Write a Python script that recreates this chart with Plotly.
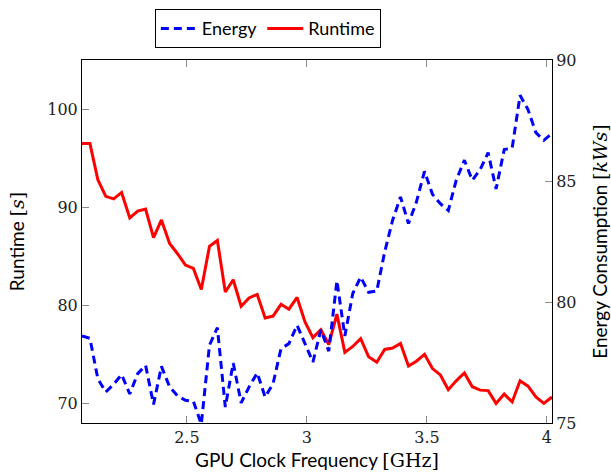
import plotly.graph_objects as go

freq_ghz = [2.063, 2.096, 2.129, 2.162, 2.195, 2.228, 2.262, 2.295, 2.328, 2.361,
            2.394, 2.428, 2.461, 2.494, 2.527, 2.560, 2.594, 2.627, 2.660, 2.693,
            2.726, 2.759, 2.793, 2.826, 2.859, 2.892, 2.925, 2.959, 2.992, 3.025,
            3.058, 3.091, 3.125, 3.158, 3.191, 3.224, 3.257, 3.291, 3.324, 3.357,
            3.390, 3.423, 3.456, 3.490, 3.523, 3.556, 3.589, 3.622, 3.656, 3.689,
            3.722, 3.755, 3.788, 3.822, 3.855, 3.888, 3.921, 3.954, 3.987, 4.021]

runtime_s = [96.5, 96.5, 92.8, 91.1, 90.85, 91.5, 88.9, 89.6, 89.8, 86.9,
             88.7, 86.3, 85.25, 84.1, 83.75, 81.6, 86.0, 86.6, 81.35, 82.6,
             79.9, 80.75, 81.1, 78.7, 78.9, 80.1, 79.6, 80.8, 78.3, 76.7,
             77.5, 76.0, 79.1, 75.2, 75.8, 76.6, 74.75, 74.2, 75.5, 75.65,
             76.1, 73.8, 74.3, 75.0, 73.55, 72.9, 71.4, 72.3, 73.1, 71.7,
             71.35, 71.3, 70.0, 70.95, 70.15, 72.3, 71.75, 70.65, 70.0, 70.65]

energy_kws = [78.6, 78.5, 76.83, 76.28, 76.6, 77.0, 76.2, 77.04, 77.38, 75.77,
              77.34, 76.49, 76.12, 75.94, 75.9, 74.95, 78.21, 78.94, 75.66, 77.48,
              75.83, 76.49, 77.07, 76.07, 76.63, 78.07, 78.28, 79.04, 78.28, 77.52,
              78.85, 77.97, 80.88, 78.6, 80.35, 81.03, 80.4, 80.45, 82.07, 83.38,
              84.34, 83.24, 84.13, 85.4, 84.45, 84.06, 83.78, 85.03, 85.86, 85.03,
              85.48, 86.17, 84.67, 86.3, 86.36, 88.54, 87.95, 87.0, 86.68, 86.97]

x_ticks = [2.5, 3, 3.5, 4]
x_tick_text = ["2.5", "3", "3.5", "4"]
runtime_ticks = [70, 80, 90, 100]
energy_ticks = [75, 80, 85, 90]

SERIF = "DejaVu Serif"
SANS = "Lato"

fig = go.Figure()
fig.add_trace(go.Scatter(x=freq_ghz, y=energy_kws, name="Energy", mode="lines",
                         line=dict(color="#0000ff", width=3, dash="8px,5px"),
                         yaxis="y2"))
fig.add_trace(go.Scatter(x=freq_ghz, y=runtime_s, name="Runtime", mode="lines",
                         line=dict(color="#ff0000", width=3)))

tickstyle = dict(ticks="inside", ticklen=7, tickwidth=1, tickcolor="#8a8a8a",
                 showgrid=False, zeroline=False, showline=True,
                 linecolor="black", linewidth=1,
                 tickfont=dict(family=SERIF, size=16, color="#222"))

fig.update_layout(
    width=611, height=474,
    margin=dict(l=82, r=59, t=60, b=51, autoexpand=False),
    paper_bgcolor="white", plot_bgcolor="white",
    showlegend=True,
    legend=dict(orientation="h", x=0.155, y=1.14, xanchor="left", yanchor="top",
                xref="paper", yref="paper",
                bordercolor="black", borderwidth=1,
                font=dict(family=SANS, size=18, color="black"),
                itemwidth=36, tracegroupgap=0),
    xaxis=dict(range=[freq_ghz[0], freq_ghz[-1]], tickvals=x_ticks, ticktext=x_tick_text,
               mirror="ticks",
               title=dict(text='GPU Clock Frequency <span style="font-family:\'DejaVu Serif\'">[GHz]</span>',
                          font=dict(family=SANS, size=19, color="black"), standoff=7),
               **tickstyle),
    yaxis=dict(range=[68, 105], tickvals=runtime_ticks,
               title=dict(text='Runtime <span style="font-family:\'DejaVu Serif\'">[<i>s</i>]</span>',
                          font=dict(family=SANS, size=19, color="black"), standoff=17),
               **tickstyle),
    yaxis2=dict(range=[75, 90], tickvals=energy_ticks, overlaying="y", side="right",
                title=dict(text='Energy Consumption <span style="font-family:\'DejaVu Serif\'">[<i>kWs</i>]</span>',
                           font=dict(family=SANS, size=19, color="black"), standoff=23),
                **tickstyle),
)

fig.write_html("out.html")
